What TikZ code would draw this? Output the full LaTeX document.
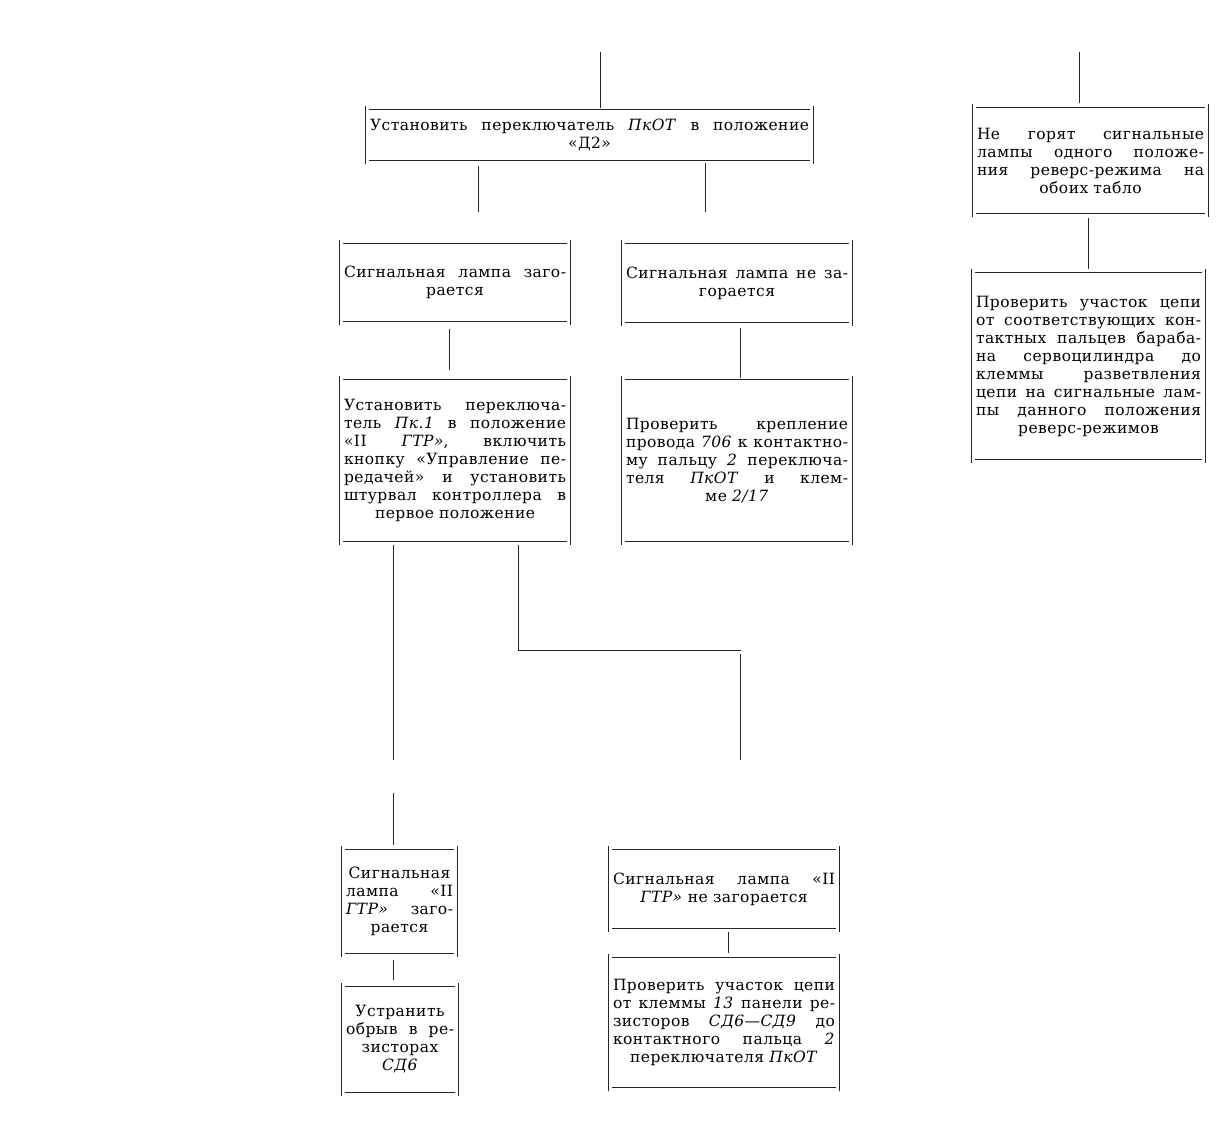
\documentclass[tikz,border=0pt]{standalone}
\usepackage{fontspec}
\setmainfont{DejaVu Serif}[LetterSpace=3]
\newcommand\jl[1]{{\spaceskip=\fontdimen2\font plus 1fil\relax\makebox[\hsize][s]{#1}}}
\newcommand\frm[1]{%
  \draw[ln] ([xshift=3pt]#1.north west) -- ([xshift=-3pt]#1.north east);
  \draw[ln] ([xshift=3pt]#1.south west) -- ([xshift=-3pt]#1.south east);
  \draw[ln] ([yshift=4pt]#1.north west) -- ([yshift=-4pt]#1.south west);
  \draw[ln] ([yshift=4pt]#1.north east) -- ([yshift=-4pt]#1.south east);}
\tikzset{
  ln/.style={line width=1pt, black!85},
  bx/.style={inner xsep=4pt, inner ysep=0pt, align=center,
    font=\fontsize{15.5}{18}\selectfont, text=black}
}
\begin{document}
\begin{tikzpicture}[x=1pt,y=-1pt]
\useasboundingbox (0,0) rectangle (1222,1131);
% boxes
\node[bx, minimum width=447pt, minimum height=50pt, text width=439pt] (A) at (589.5,135)
  {\jl{Установить переключатель \textit{ПкОТ} в положение}\\«Д2»};
\node[bx, minimum width=230pt, minimum height=77pt, text width=222pt] (B) at (455,282.5)
  {\jl{Сигнальная лампа заго-}\\рается};
\node[bx, minimum width=230pt, minimum height=78pt, text width=222pt] (C) at (737,283)
  {\jl{Сигнальная лампа не за-}\\горается};
\node[bx, minimum width=230pt, minimum height=161pt, text width=222pt] (D) at (455,460.5)
  {\jl{Установить переключа-}\\\jl{тель \textit{Пк.1} в положение}\\\jl{«II \textit{ГТР»}, включить}\\\jl{кнопку «Управление пе-}\\\jl{редачей» и установить}\\\jl{штурвал контроллера в}\\первое положение};
\node[bx, minimum width=230pt, minimum height=161pt, text width=222pt] (E) at (737,460.5)
  {\jl{Проверить крепление}\\\jl{провода \textit{706} к контактно-}\\\jl{му пальцу \textit{2} переключа-}\\\jl{теля \textit{ПкОТ} и клем-}\\ме \textit{2/17}};
\node[bx, minimum width=115pt, minimum height=103pt, text width=107pt] (F) at (399.5,901.5)
  {Сигнальная\\\jl{лампа «II}\\\jl{\textit{ГТР»} заго-}\\рается};
\node[bx, minimum width=116pt, minimum height=105pt, text width=108pt] (G) at (400,1039.5)
  {Устранить\\\jl{обрыв в ре-}\\зисторах\\\textit{СД6}};
\node[bx, minimum width=230pt, minimum height=78pt, text width=222pt] (H) at (724,889)
  {\jl{Сигнальная лампа «II}\\\textit{ГТР»} не загорается};
\node[bx, minimum width=230pt, minimum height=129pt, text width=222pt] (I) at (724,1022.5)
  {\jl{Проверить участок цепи}\\\jl{от клеммы \textit{13} панели ре-}\\\jl{зисторов \textit{СД6—СД9} до}\\\jl{контактного пальца \textit{2}}\\переключателя \textit{ПкОТ}};
\node[bx, minimum width=235pt, minimum height=105pt, text width=227pt] (J) at (1090.5,160.5)
  {\jl{Не горят сигнальные}\\\jl{лампы одного положе-}\\\jl{ния реверс-режима на}\\обоих табло};
\node[bx, minimum width=233pt, minimum height=186pt, text width=225pt] (K) at (1088.5,366)
  {\jl{Проверить участок цепи}\\\jl{от соответствующих кон-}\\\jl{тактных пальцев бараба-}\\\jl{на сервоцилиндра до}\\\jl{клеммы разветвления}\\\jl{цепи на сигнальные лам-}\\\jl{пы данного положения}\\реверс-режимов};
\frm{A}\frm{B}\frm{C}\frm{D}\frm{E}\frm{F}\frm{G}\frm{H}\frm{I}\frm{J}\frm{K}
% connectors
\coordinate (t1) at (600,52);
\draw[ln, shorten >=2pt] (t1) -- (t1 |- A.north);
\coordinate (ab) at (478,212);
\draw[ln, shorten <=6pt] (A.south -| ab) -- (ab);
\coordinate (ac) at (705,212);
\draw[ln, shorten <=3pt] (A.south -| ac) -- (ac);
\coordinate (bd) at (449,0);
\draw[ln, shorten <=8pt, shorten >=10pt] (B.south -| bd) -- (D.north -| bd);
\coordinate (ce) at (740,0);
\draw[ln, shorten <=6pt, shorten >=2pt] (C.south -| ce) -- (E.north -| ce);
\coordinate (df) at (393,760);
\draw[ln, shorten <=4pt] (D.south -| df) -- (df);
\coordinate (fin) at (393,793);
\draw[ln, shorten >=5pt] (fin) -- (F.north -| fin);
\coordinate (dm) at (518,650);
\coordinate (hr) at (741,650);
\coordinate (he) at (740,760);
\draw[ln, shorten <=4pt] (D.south -| dm) -- (dm) -- (hr);
\draw[ln] ([yshift=-4pt]hr -| he) -- (he);
\coordinate (fg) at (393,0);
\draw[ln, shorten <=7pt, shorten >=7pt] (F.south -| fg) -- (G.north -| fg);
\coordinate (hi) at (728,0);
\draw[ln, shorten <=4pt, shorten >=5pt] (H.south -| hi) -- (I.north -| hi);
\coordinate (t2) at (1079,52);
\draw[ln, shorten >=5pt] (t2) -- (t2 |- J.north);
\coordinate (jk) at (1088,0);
\draw[ln, shorten <=5pt, shorten >=4pt] (J.south -| jk) -- (K.north -| jk);
\end{tikzpicture}
\end{document}
